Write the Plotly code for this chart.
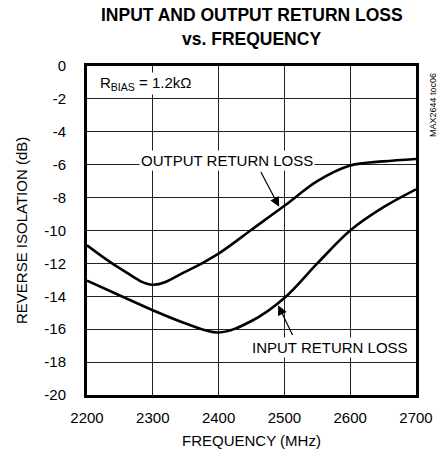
import plotly.graph_objects as go

freq = [2200, 2250, 2300, 2350, 2400, 2450, 2500, 2550, 2600, 2650, 2700]
output_rl = [-10.9, -12.3, -13.3, -12.5, -11.4, -9.95, -8.5, -7.0, -6.05, -5.8, -5.65]
input_rl = [-13.05, -13.95, -14.85, -15.65, -16.2, -15.5, -14.1, -12.0, -10.0, -8.6, -7.5]

x_ticks = [2200, 2300, 2400, 2500, 2600, 2700]
y_ticks = [0, -2, -4, -6, -8, -10, -12, -14, -16, -18, -20]
y_tick_text = ["0", "-2", "-4", "-6", "-8", "-10", "-12", "-14", "-16", "-18", "-20"]

FONT = "Liberation Sans, Arial, sans-serif"
W, H = 448, 458
L, R, T, B = 87, 32, 66, 63
PW, PH = W - L - R, H - T - B


def px(x):
    return (x - L) / PW


def py(y):
    return (H - B - y) / PH


fig = go.Figure()
for ys in (output_rl, input_rl):
    fig.add_trace(go.Scatter(x=freq, y=ys, mode="lines",
                             line=dict(color="black", width=2.6, shape="spline", smoothing=1.0),
                             showlegend=False, hoverinfo="skip"))

axis_common = dict(showgrid=True, gridcolor="#222", gridwidth=1, zeroline=False,
                   showline=True, linecolor="black", linewidth=3, mirror=True,
                   ticks="", automargin=False,
                   tickfont=dict(family=FONT, size=15, color="black"))

fig.update_xaxes(range=[2200, 2700], tickvals=x_ticks, ticklabelstandoff=7, **axis_common)
fig.update_yaxes(range=[-20, 0], tickvals=y_ticks, ticktext=y_tick_text, ticklabelstandoff=15,
                 **axis_common)

ann_font = dict(family=FONT, size=15, color="black")
fig.add_annotation(x=2216, y=-1.05, xref="x", yref="y", xanchor="left",
                   text="R<sub>BIAS</sub> = 1.2kΩ", showarrow=False, font=ann_font,
                   bgcolor="white", borderpad=1)
fig.add_annotation(x=2413, y=-5.75, xref="x", yref="y",
                   text="OUTPUT RETURN LOSS", showarrow=False, font=ann_font,
                   bgcolor="white", borderpad=1)
fig.add_annotation(x=2570, y=-17.1, xref="x", yref="y",
                   text="INPUT RETURN LOSS", showarrow=False, font=ann_font,
                   bgcolor="white", borderpad=1)
# arrows
fig.add_annotation(x=2492, y=-8.55, ax=2463, ay=-6.35, xref="x", yref="y", axref="x", ayref="y",
                   text="", showarrow=True, arrowhead=2, arrowsize=1.6, arrowwidth=1.2, arrowcolor="black")
fig.add_annotation(x=2490.5, y=-14.55, ax=2513.5, ay=-16.45, xref="x", yref="y", axref="x", ayref="y",
                   text="", showarrow=True, arrowhead=2, arrowsize=1.6, arrowwidth=1.2, arrowcolor="black")

# titles and side label
fig.add_annotation(x=px(251.5), y=py(15), xref="paper", yref="paper", xanchor="center", yanchor="middle",
                   text="<b>INPUT AND OUTPUT RETURN LOSS</b>", showarrow=False,
                   font=dict(family=FONT, size=17.5, color="black"))
fig.add_annotation(x=px(251.5), y=py(39), xref="paper", yref="paper", xanchor="center", yanchor="middle",
                   text="<b>vs. FREQUENCY</b>", showarrow=False,
                   font=dict(family=FONT, size=17.5, color="black"))
fig.add_annotation(x=px(251.5), y=py(440), xref="paper", yref="paper", xanchor="center", yanchor="middle",
                   text="FREQUENCY (MHz)", showarrow=False, font=ann_font)
fig.add_annotation(x=px(21), y=py(231), xref="paper", yref="paper", xanchor="center", yanchor="middle",
                   text="REVERSE ISOLATION (dB)", showarrow=False, textangle=-90, font=ann_font)
fig.add_annotation(x=px(433), y=py(105), xref="paper", yref="paper", xanchor="center", yanchor="middle",
                   text="MAX2644 toc06", showarrow=False, textangle=-90,
                   font=dict(family=FONT, size=9, color="black"))

fig.update_layout(
    width=W, height=H,
    margin=dict(l=L, r=R, t=T, b=B),
    paper_bgcolor="white", plot_bgcolor="white",
)

fig.write_html("out.html", config={"displayModeBar": False},
               post_script="document.body.style.margin='0px';")
